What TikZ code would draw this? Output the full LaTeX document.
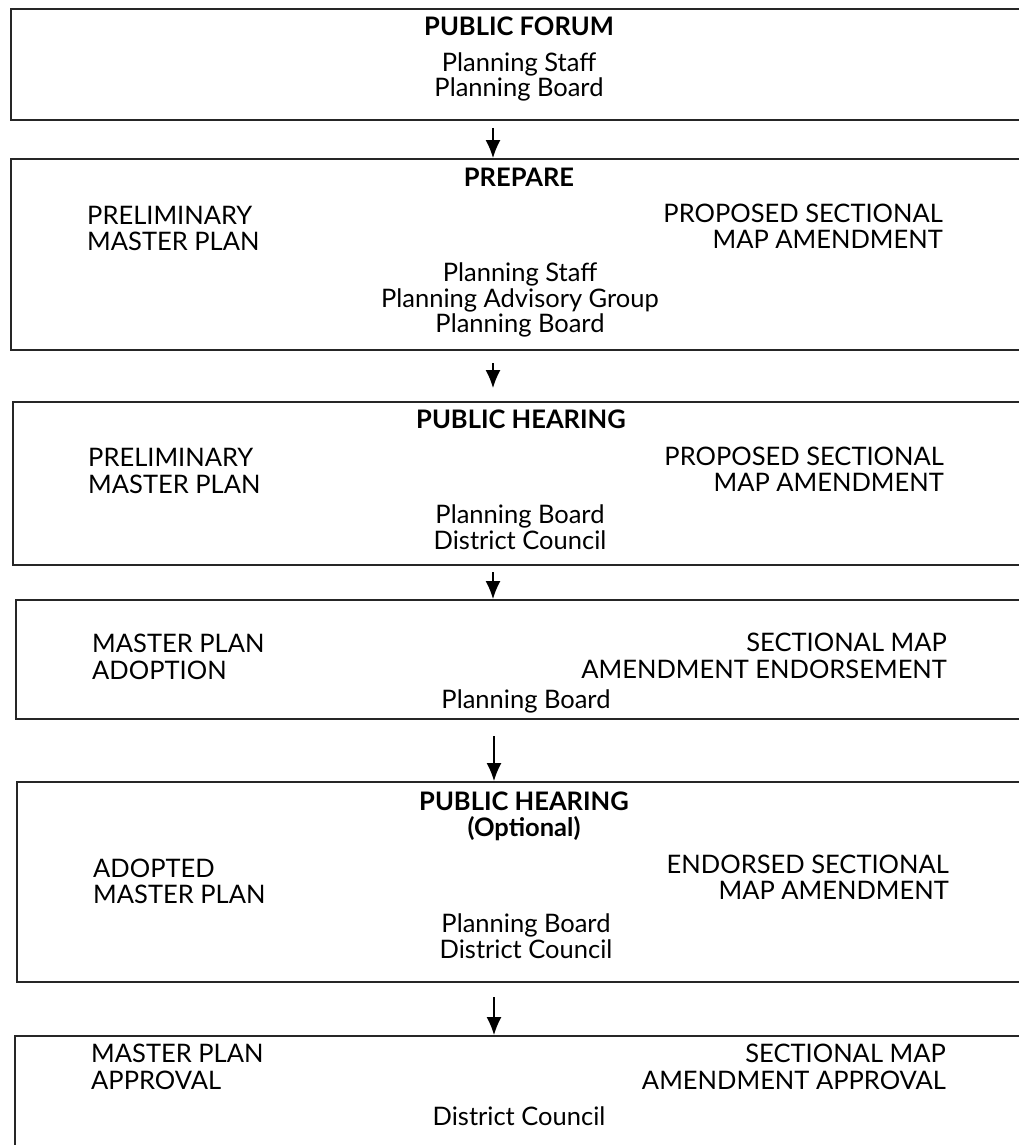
\documentclass[tikz,border=0pt]{standalone}
\usepackage{fontspec}
\setmainfont{Lato}
\usetikzlibrary{arrows.meta}
\tikzset{
  box/.style={draw=black!85, line width=1.8pt, anchor=north west, minimum width=1030pt, inner sep=0pt},
  lab/.style={inner sep=0pt, font=\fontsize{25.5}{26}\selectfont},
  cl/.style={lab, anchor=base},
  ll/.style={lab, anchor=base west},
  rl/.style={lab, anchor=base east},
  tl/.style={lab, anchor=base, font=\fontsize{25.5}{26}\selectfont\bfseries},
  arr/.style={line width=1.3pt, -{Latex[length=18pt,width=15pt]}}
}
\begin{document}
\begin{tikzpicture}[x=1pt,y=-1pt]
\useasboundingbox[fill=white] (0,0) rectangle (1019,1145);
% boxes
\node[box, minimum height=111pt] (b1) at (10,8) {};
\node[box, minimum height=191pt] (b2) at (10,158) {};
\node[box, minimum height=163pt] (b3) at (12,401) {};
\node[box, minimum height=119pt] (b4) at (15,599) {};
\node[box, minimum height=200pt] (b5) at (16,781) {};
\node[box, minimum height=130pt] (b6) at (14,1035) {};
% box 1
\node[tl] (t1) at (519,36) {PUBLIC FORUM};
\node[cl] (c1a) at (519,72) {Planning Staff};
\node[cl] (c1b) at (519,97) {Planning Board};
% box 2
\node[tl] (t2) at (519,186) {PREPARE};
\node[ll] (l2a) at (87,224) {PRELIMINARY};
\node[ll] (l2b) at (87,250) {MASTER PLAN};
\node[rl] (r2a) at (943,222) {PROPOSED SECTIONAL};
\node[rl] (r2b) at (943,248) {MAP AMENDMENT};
\node[cl] (c2a) at (520,281) {Planning Staff};
\node[cl] (c2b) at (520,307) {Planning Advisory Group};
\node[cl] (c2c) at (520,332) {Planning Board};
% box 3
\node[tl] (t3) at (521,428) {PUBLIC HEARING};
\node[ll] (l3a) at (88,466) {PRELIMINARY};
\node[ll] (l3b) at (88,493) {MASTER PLAN};
\node[rl] (r3a) at (944,465) {PROPOSED SECTIONAL};
\node[rl] (r3b) at (944,491) {MAP AMENDMENT};
\node[cl] (c3a) at (520,523) {Planning Board};
\node[cl] (c3b) at (520,549) {District Council};
% box 4
\node[ll] (l4a) at (92,652) {MASTER PLAN};
\node[ll] (l4b) at (92,679) {ADOPTION};
\node[rl] (r4a) at (947,651) {SECTIONAL MAP};
\node[rl] (r4b) at (947,678) {AMENDMENT ENDORSEMENT};
\node[cl] (c4a) at (526,708) {Planning Board};
% box 5
\node[tl] (t5a) at (524,810) {PUBLIC HEARING};
\node[tl] (t5b) at (524,836) {(Optional)};
\node[ll] (l5a) at (93,877) {ADOPTED};
\node[ll] (l5b) at (93,903) {MASTER PLAN};
\node[rl] (r5a) at (949,873) {ENDORSED SECTIONAL};
\node[rl] (r5b) at (949,899) {MAP AMENDMENT};
\node[cl] (c5a) at (526,932) {Planning Board};
\node[cl] (c5b) at (526,958) {District Council};
% box 6
\node[ll] (l6a) at (91,1062) {MASTER PLAN};
\node[ll] (l6b) at (91,1089) {APPROVAL};
\node[rl] (r6a) at (946,1062) {SECTIONAL MAP};
\node[rl] (r6b) at (946,1089) {AMENDMENT APPROVAL};
\node[cl] (c6a) at (519,1125) {District Council};
% arrows
\coordinate (a1) at (493,128);
\coordinate (a2) at (493,363);
\coordinate (a2e) at (493,388);
\coordinate (a3) at (493,572);
\coordinate (a4) at (494,736);
\coordinate (a5) at (494,997);
\draw[arr] (a1) -- (a1 |- b2.north);
\draw[arr] (a2) -- (a2e);
\draw[arr] (a3) -- (a3 |- b4.north);
\draw[arr] (a4) -- (a4 |- b5.north);
\draw[arr] (a5) -- (a5 |- b6.north);
\end{tikzpicture}
\end{document}
